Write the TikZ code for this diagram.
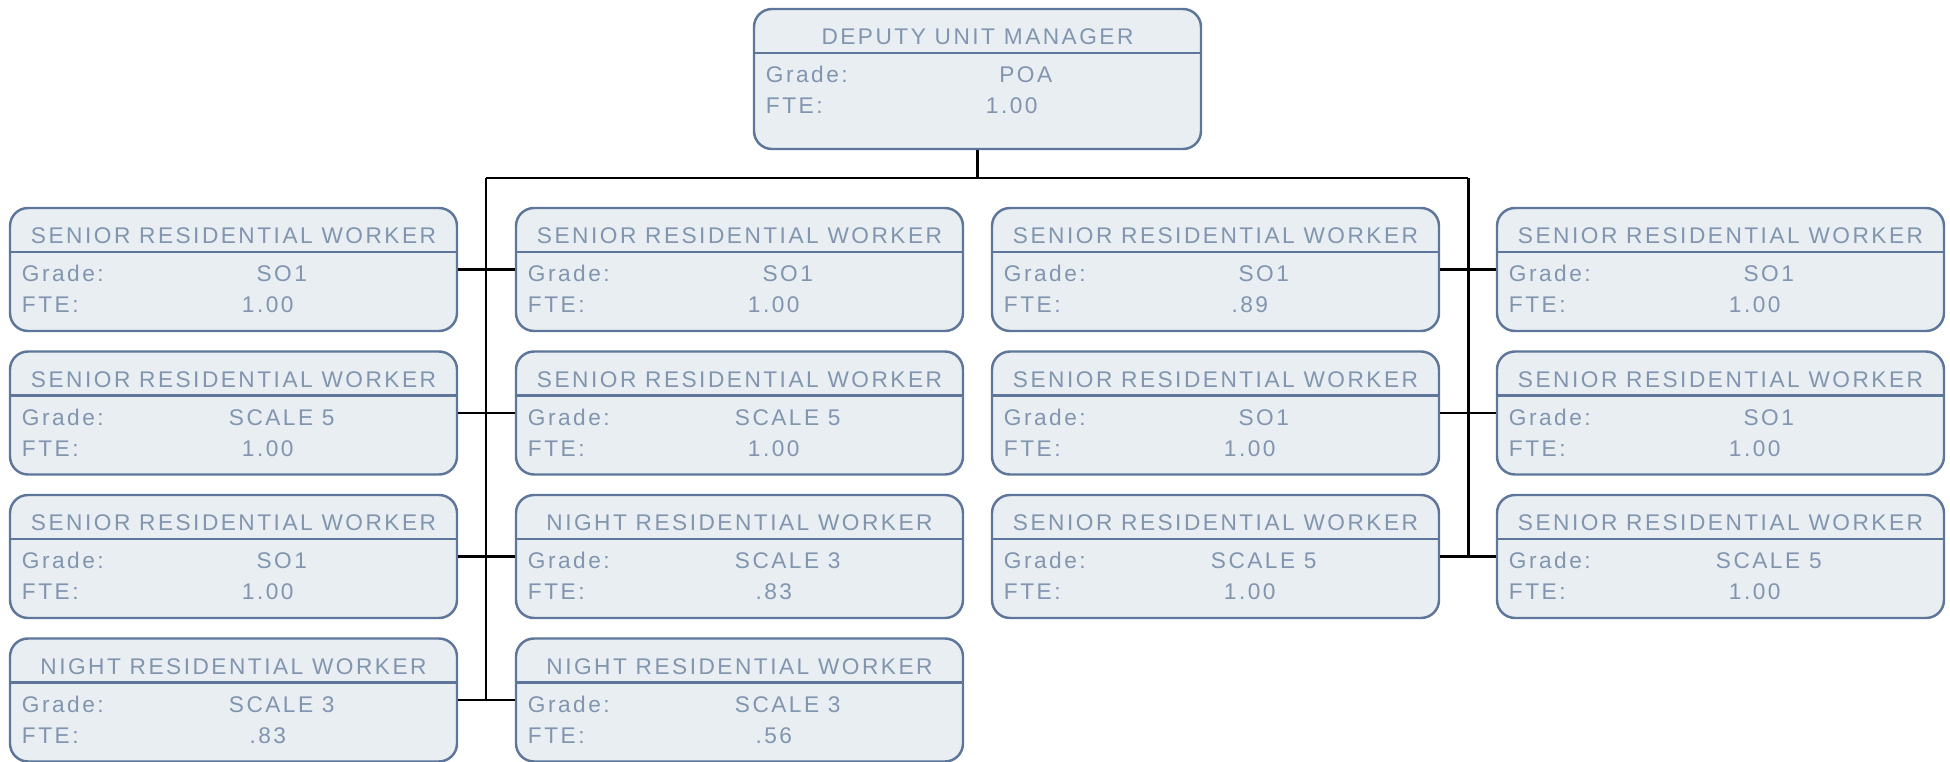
\documentclass[tikz,border=0pt]{standalone}
\usepackage{fontspec}
\setmainfont{Liberation Sans}[LetterSpace=11]
\usepackage{xcolor}
\usepackage{tikz}
\usetikzlibrary{positioning, calc}

\definecolor{cardline}{HTML}{5E7699}
\definecolor{cardfill}{HTML}{E9EEF2}
\definecolor{cardtext}{HTML}{8195AF}

% card: title, divider, grade and FTE lines
\newcommand{\staffcard}[6][]{%
  \node[card, #1] (#2) at (#3) {};
  \draw[divider] ($(#2.north west)+(0,-0.45)$) -- ($(#2.north east)+(0,-0.45)$);
  \node[cardtxt, anchor=base] (#2-title) at ($(#2.north)+(0,-0.37)$) {#4};
  \node[cardtxt, anchor=base west] (#2-gl) at ($(#2.north west)+(0.125,-0.75)$) {Grade:};
  \node[cardtxt, anchor=base] (#2-gv) at ($(#2.north west)+(2.73,-0.75)$) {#5};
  \node[cardtxt, anchor=base west] (#2-fl) at ($(#2.north west)+(0.125,-1.06)$) {FTE:};
  \node[cardtxt, anchor=base] (#2-fv) at ($(#2.north west)+(2.59,-1.06)$) {#6};
}

\begin{document}
\begin{tikzpicture}[
    card/.style={rectangle, draw=cardline, line width=0.7pt, fill=cardfill, rounded corners=0.18cm, minimum width=4.47cm, minimum height=1.23cm, inner sep=0pt},
    topcard/.style={minimum height=1.40cm},
    divider/.style={draw=cardline, line width=0.7pt},
    cardtxt/.style={text=cardtext, inner sep=0pt, font=\fontsize{6.45pt}{7.7pt}\selectfont},
    link/.style={black, line width=0.85pt}
]
\useasboundingbox (0,0) rectangle (19.5,-7.62);

% Manager
\staffcard[topcard]{dum}{9.775,-0.79}{DEPUTY UNIT MANAGER}{POA}{1.00}

% Column 1
\staffcard{a1}{2.335,-2.695}{SENIOR RESIDENTIAL WORKER}{SO1}{1.00}
\staffcard{a2}{2.335,-4.13}{SENIOR RESIDENTIAL WORKER}{SCALE 5}{1.00}
\staffcard{a3}{2.335,-5.565}{SENIOR RESIDENTIAL WORKER}{SO1}{1.00}
\staffcard{a4}{2.335,-7.0}{NIGHT RESIDENTIAL WORKER}{SCALE 3}{.83}

% Column 2
\staffcard{b1}{7.395,-2.695}{SENIOR RESIDENTIAL WORKER}{SO1}{1.00}
\staffcard{b2}{7.395,-4.13}{SENIOR RESIDENTIAL WORKER}{SCALE 5}{1.00}
\staffcard{b3}{7.395,-5.565}{NIGHT RESIDENTIAL WORKER}{SCALE 3}{.83}
\staffcard{b4}{7.395,-7.0}{NIGHT RESIDENTIAL WORKER}{SCALE 3}{.56}

% Column 3
\staffcard{c1}{12.155,-2.695}{SENIOR RESIDENTIAL WORKER}{SO1}{.89}
\staffcard{c2}{12.155,-4.13}{SENIOR RESIDENTIAL WORKER}{SO1}{1.00}
\staffcard{c3}{12.155,-5.565}{SENIOR RESIDENTIAL WORKER}{SCALE 5}{1.00}

% Column 4
\staffcard{d1}{17.205,-2.695}{SENIOR RESIDENTIAL WORKER}{SO1}{1.00}
\staffcard{d2}{17.205,-4.13}{SENIOR RESIDENTIAL WORKER}{SO1}{1.00}
\staffcard{d3}{17.205,-5.565}{SENIOR RESIDENTIAL WORKER}{SCALE 5}{1.00}

% Buses
\coordinate (lbus) at (4.86,-1.78);
\coordinate (rbus) at (14.68,-1.78);
\draw[link] (dum.south) -- (dum.south |- lbus);
\draw[link] (lbus) -- (rbus);
\draw[link] (lbus) -- (lbus |- a4.east);
\draw[link] (rbus) -- (rbus |- c3.east);

% Branches
\draw[link] (a1.east) -- (b1.west);
\draw[link] (a2.east) -- (b2.west);
\draw[link] (a3.east) -- (b3.west);
\draw[link] (a4.east) -- (b4.west);
\draw[link] (c1.east) -- (d1.west);
\draw[link] (c2.east) -- (d2.west);
\draw[link] (c3.east) -- (d3.west);

\end{tikzpicture}
\end{document}
